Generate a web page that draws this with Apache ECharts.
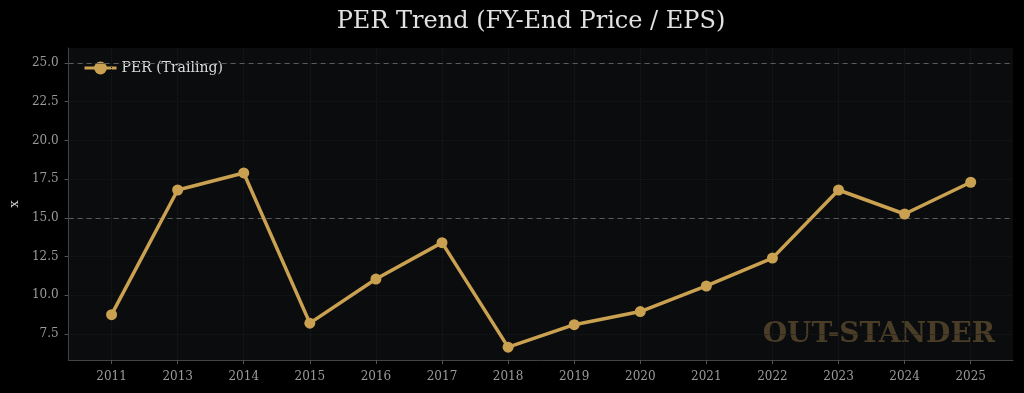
<!DOCTYPE html>
<html><head><meta charset="utf-8">
<script src="https://cdn.jsdelivr.net/npm/echarts@6/dist/echarts.min.js"></script>
<style>html,body{margin:0;padding:0;background:#000;}#c{width:1024px;height:393px;}</style>
</head><body><div id="c"></div>
<script>
const categories = ['2011','2013','2014','2015','2016','2017','2018','2019','2020','2021','2022','2023','2024','2025'];
const perValues = [8.75, 16.8, 17.9, 8.2, 11.05, 13.4, 6.65, 8.1, 8.95, 10.6, 12.4, 16.8, 15.25, 17.3];
const yTicks = [7.5, 10, 12.5, 15, 17.5, 20, 22.5, 25];
const refLines = [15, 25];

const serif = '"DejaVu Serif", "Liberation Serif", serif';
const xIdx = categories.map((c, i) => i);
const faint = { color: '#1a1b1e', type: 'dotted', width: 1 };
const gold = '#c9a150';

const chart = echarts.init(document.getElementById('c'), null, { renderer: 'canvas' });
chart.setOption({
  backgroundColor: '#000',
  animation: false,
  title: {
    text: 'PER Trend (FY-End Price / EPS)',
    left: 526, top: 5, textAlign: 'center',
    textStyle: { color: '#e2e2e2', fontFamily: serif, fontWeight: 'normal', fontSize: 24 }
  },
  legend: {
    left: 78, top: 56,
    itemWidth: 32, itemHeight: 16, itemGap: 10,
    lineStyle: { width: 3, color: gold },
    itemStyle: { color: gold },
    textStyle: { color: '#dcdcdc', fontFamily: serif, fontSize: 14 },
    data: ['PER (Trailing)']
  },
  grid: { left: 68, right: 11, top: 48, bottom: 33, show: true, backgroundColor: '#0b0c0e', borderWidth: 0 },
  xAxis: {
    type: 'value', min: -0.65, max: 13.64,
    axisLine: { show: true, onZero: false, lineStyle: { color: '#444', width: 1 } },
    axisTick: { show: true, customValues: xIdx, length: 4, lineStyle: { color: '#555' } },
    axisLabel: { customValues: xIdx, formatter: v => categories[Math.round(v)], color: '#9a9a9a', fontFamily: serif, fontSize: 12, margin: 11 },
    splitLine: { show: false }
  },
  yAxis: {
    type: 'value', min: 5.82, max: 25.97,
    name: 'x', nameLocation: 'middle', nameGap: 45, nameRotate: 90,
    nameTextStyle: { color: '#cfcfcf', fontFamily: serif, fontSize: 13 },
    axisLine: { show: true, onZero: false, lineStyle: { color: '#444', width: 1 } },
    axisTick: { show: true, customValues: yTicks, length: 4, lineStyle: { color: '#555' } },
    axisLabel: { customValues: yTicks, formatter: v => v.toFixed(1), color: '#9a9a9a', fontFamily: serif, fontSize: 12, margin: 10 },
    splitLine: { show: false }
  },
  graphic: [{
    type: 'text', right: 29, top: 321, z: 1,
    style: { text: 'OUT-STANDER', fill: '#4a3d27', font: 'bold 28px "DejaVu Serif", serif' }
  }],
  series: [
    {
      name: 'grid', type: 'line', data: [], silent: true, z: 1,
      markLine: {
        silent: true, symbol: 'none', label: { show: false },
        lineStyle: faint,
        data: yTicks.map(v => ({ yAxis: v })).concat(xIdx.map(v => ({ xAxis: v })))
      }
    },
    {
      name: 'ref', type: 'line', data: [], silent: true, z: 2,
      markLine: {
        silent: true, symbol: 'none', label: { show: false },
        lineStyle: { color: '#5c5c5c', type: [5, 4], width: 1 },
        data: refLines.map(v => ({ yAxis: v }))
      }
    },
    {
      name: 'PER (Trailing)', type: 'line', z: 5,
      data: perValues.map((v, i) => [i, v]),
      symbol: 'circle', symbolSize: 11,
      lineStyle: { color: gold, width: 3.5 },
      itemStyle: { color: gold }
    }
  ]
});
</script></body></html>
